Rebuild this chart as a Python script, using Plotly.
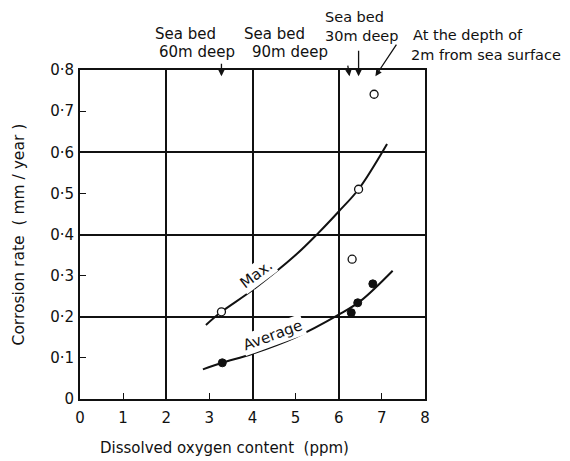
import plotly.graph_objects as go

# ---- data ----
max_pts_x = [3.28, 6.46, 6.31, 6.82]
max_pts_y = [0.212, 0.51, 0.34, 0.741]
avg_pts_x = [3.30, 6.29, 6.44, 6.79]
avg_pts_y = [0.088, 0.21, 0.234, 0.28]

max_curve_x = [2.92, 3.28, 4.0, 5.0, 5.53, 6.0, 6.46, 7.12]
max_curve_y = [0.18, 0.212, 0.265, 0.35, 0.404, 0.456, 0.51, 0.62]
avg_curve_x = [2.85, 3.30, 4.0, 5.0, 6.0, 6.5, 7.25]
avg_curve_y = [0.072, 0.088, 0.11, 0.15, 0.205, 0.238, 0.312]

x_ticks = [0, 1, 2, 3, 4, 5, 6, 7, 8]
x_labels = ["0", "1", "2", "3", "4", "5", "6", "7", "8"]
y_ticks = [0, 0.1, 0.2, 0.3, 0.4, 0.5, 0.6, 0.7, 0.8]
y_labels = ["0", "0·1", "0·2", "0·3", "0·4", "0·5", "0·6", "0·7", "0·8"]

FONT = "DejaVu Sans"
INK = "#111111"

fig = go.Figure()

fig.add_trace(go.Scatter(x=max_curve_x, y=max_curve_y, mode="lines",
                         line=dict(color=INK, width=2, shape="spline"),
                         hoverinfo="skip", showlegend=False))
fig.add_trace(go.Scatter(x=avg_curve_x, y=avg_curve_y, mode="lines",
                         line=dict(color=INK, width=2, shape="spline"),
                         hoverinfo="skip", showlegend=False))
fig.add_trace(go.Scatter(x=max_pts_x, y=max_pts_y, mode="markers",
                         marker=dict(symbol="circle", size=8, color="white",
                                     line=dict(color=INK, width=1.3)),
                         showlegend=False, name="Max."))
fig.add_trace(go.Scatter(x=avg_pts_x, y=avg_pts_y, mode="markers",
                         marker=dict(symbol="circle", size=8, color=INK,
                                     line=dict(color=INK, width=1)),
                         showlegend=False, name="Average"))
# invisible trace to anchor the grid axes
fig.add_trace(go.Scatter(x=avg_pts_x, y=avg_pts_y, mode="markers", xaxis="x2", yaxis="y2",
                         marker=dict(size=1, opacity=0), hoverinfo="skip", showlegend=False))

# page body has an 8px margin, so the figure is sized/offset to compensate
fig.update_layout(
    width=562, height=453,
    margin=dict(l=72, r=145, t=62, b=62),
    paper_bgcolor="white", plot_bgcolor="white",
    font=dict(family=FONT, size=15, color=INK),
    xaxis=dict(range=[0, 8], tickvals=x_ticks, ticktext=x_labels,
               ticks="inside", ticklen=6, tickwidth=1.3, tickcolor=INK,
               showgrid=False, zeroline=False, showline=True, linewidth=2,
               linecolor=INK, mirror=True, ticklabelstandoff=4,
               tickfont=dict(family=FONT, size=15)),
    yaxis=dict(range=[0, 0.8], tickvals=y_ticks, ticktext=y_labels,
               ticks="inside", ticklen=6, tickwidth=1.3, tickcolor=INK,
               showgrid=False, zeroline=False, showline=True, linewidth=2,
               linecolor=INK, mirror=True, ticklabelstandoff=1,
               tickfont=dict(family=FONT, size=15)),
    xaxis2=dict(range=[0, 8], overlaying="x", dtick=2, tick0=0, showgrid=True,
                gridcolor=INK, gridwidth=1.5, showticklabels=False, ticks="",
                zeroline=False, showline=False),
    yaxis2=dict(range=[0, 0.8], overlaying="y", dtick=0.2, tick0=0, showgrid=True,
                gridcolor=INK, gridwidth=1.5, showticklabels=False, ticks="",
                zeroline=False, showline=False),
)

ann = []
# axis titles
ann.append(dict(text="Corrosion rate  ( mm / year )", xref="paper", yref="paper",
                x=-0.177, y=0.50, textangle=-90, showarrow=False,
                xanchor="center", yanchor="middle", font=dict(size=15.5)))
ann.append(dict(text="Dissolved oxygen content  (ppm)", xref="paper", yref="paper",
                x=0.42, y=-0.149, showarrow=False, xanchor="center", yanchor="middle",
                font=dict(size=15)))
# curve labels
ann.append(dict(text="Max.", x=4.09, y=0.305, xref="x", yref="y", textangle=-37,
                showarrow=False, bgcolor="white", font=dict(size=15)))
ann.append(dict(text="Average", x=4.48, y=0.155, xref="x", yref="y", textangle=-20,
                showarrow=False, bgcolor="white", font=dict(size=15)))
# top texts
tops = [("Sea bed", 0.212, 1.109, 15), ("60m deep", 0.223, 1.055, 15),
        ("Sea bed", 0.470, 1.109, 15), ("90m deep", 0.493, 1.055, 15),
        ("Sea bed<br>30m deep", 0.704, 1.133, 14.5),
        ("At the depth of", 0.958, 1.106, 14.5), ("2m from sea surface", 0.955, 1.045, 14.5)]
for t, xp, yp, fs in tops:
    ann.append(dict(text=t, xref="paper", yref="paper", x=xp, y=yp,
                    xanchor="left", yanchor="middle", align="left", showarrow=False,
                    font=dict(size=fs)))
# arrows
arrow = dict(xref="x", yref="y", text="", showarrow=True, arrowhead=2,
             arrowsize=1, arrowwidth=1.3, arrowcolor=INK, standoff=0)
ann.append(dict(arrow, x=3.28, y=0.785, ax=0, ay=-14))
ann.append(dict(arrow, x=6.25, y=0.785, ax=-2, ay=-12))
ann.append(dict(arrow, x=6.21, y=0.814, ax=-13, ay=-5, arrowhead=0))
ann.append(dict(arrow, x=6.46, y=0.785, ax=0, ay=-27))
ann.append(dict(arrow, x=6.85, y=0.785, ax=22, ay=-33))
fig.update_layout(annotations=ann)

fig.write_html("out.html")
